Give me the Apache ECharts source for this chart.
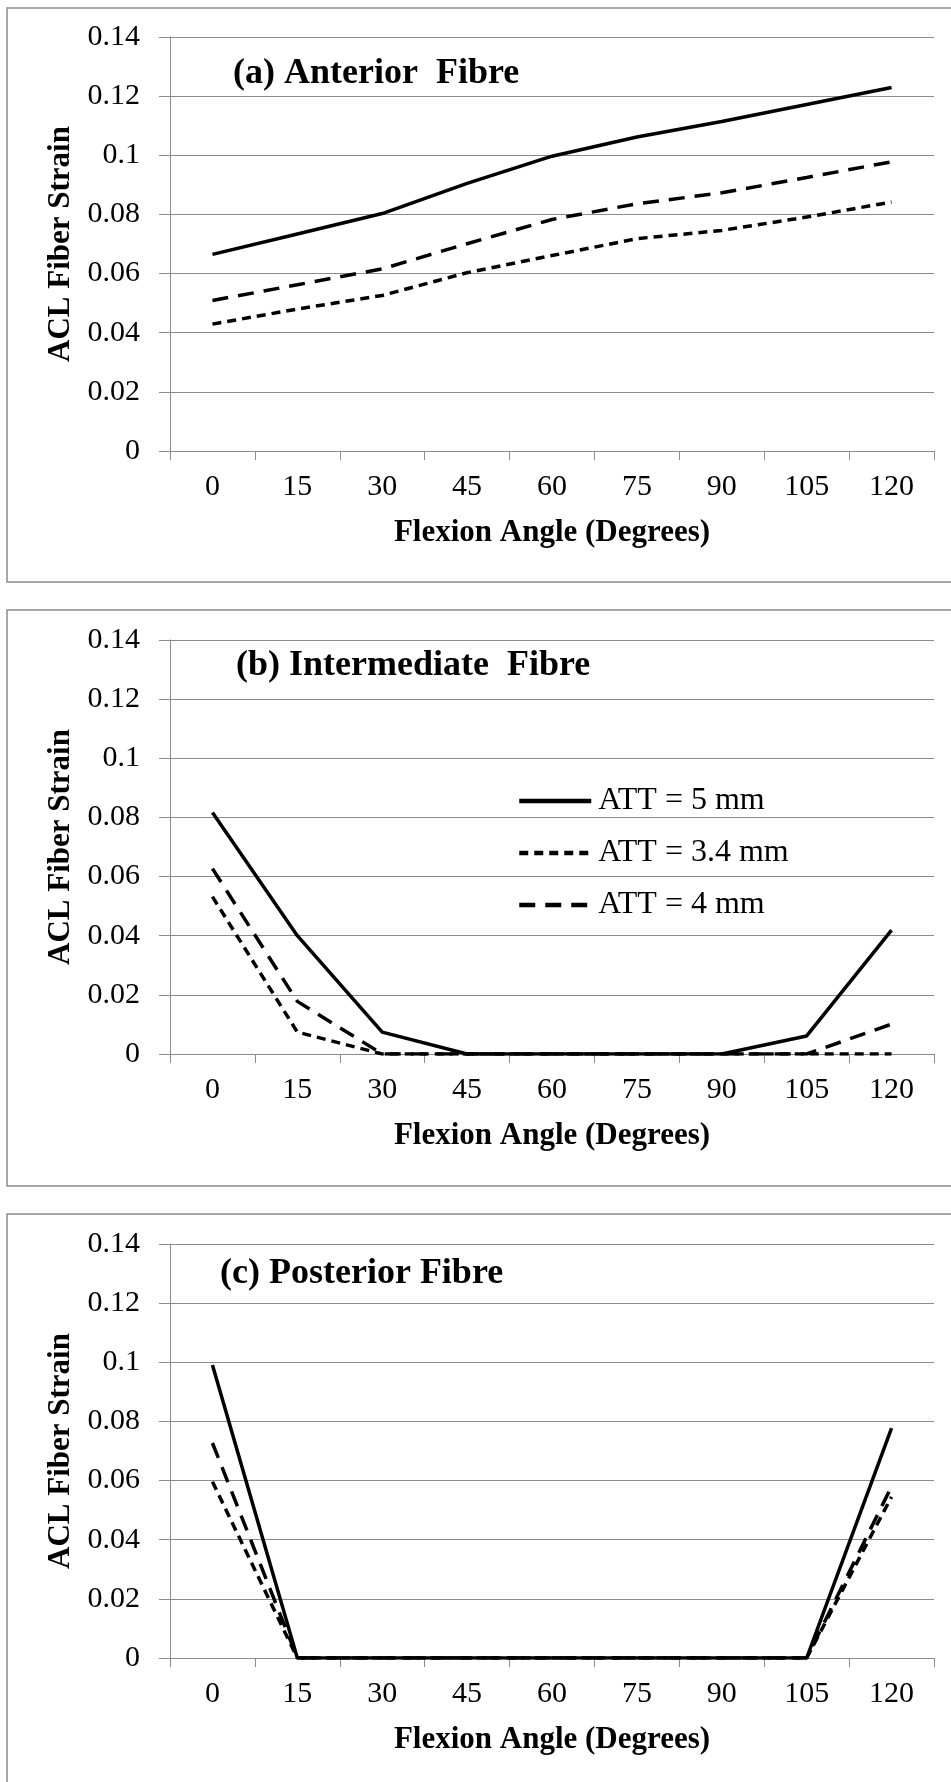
<!DOCTYPE html>
<html>
<head>
<meta charset="utf-8">
<title>ACL Fiber Strain</title>
<script src="https://cdn.jsdelivr.net/npm/echarts@6.0.0/dist/echarts.min.js"></script>
<style>
  html, body { margin: 0; padding: 0; background: #fff; }
  #chart { width: 951px; height: 1782px; }
</style>
</head>
<body>
<div id="chart"></div>
<script>
// flexion angle categories
const angles = ['0', '15', '30', '45', '60', '75', '90', '105', '120']

// (a) anterior fibre
const antAtt5 = [0.0665, 0.0734, 0.0803, 0.0905, 0.0997, 0.1062, 0.1114, 0.1172, 0.1229]
const antAtt34 = [0.0429, 0.0480, 0.0526, 0.0603, 0.0661, 0.0718, 0.0746, 0.0791, 0.0842]
const antAtt4 = [0.0509, 0.0562, 0.0616, 0.0701, 0.0783, 0.0836, 0.0873, 0.0925, 0.0978]

// (b) intermediate fibre
const intAtt5 = [0.0817, 0.0400, 0.0074, 0, 0, 0, 0, 0.0061, 0.0419]
const intAtt34 = [0.0532, 0.0074, 0, 0, 0, 0, 0, 0, 0]
const intAtt4 = [0.0627, 0.0178, 0, 0, 0, 0, 0, 0, 0.0101]

// (c) posterior fibre
const postAtt5 = [0.0991, 0, 0, 0, 0, 0, 0, 0, 0.0777]
const postAtt34 = [0.0596, 0, 0, 0, 0, 0, 0, 0, 0.0545]
const postAtt4 = [0.0727, 0, 0, 0, 0, 0, 0, 0, 0.0580]

const panelTitles = ['(a) Anterior  Fibre', '(b) Intermediate  Fibre', '(c) Posterior Fibre']
const seriesNames = ['ATT = 5 mm', 'ATT = 3.4 mm', 'ATT = 4 mm']

const yMin = 0
const yMax = 0.14
const yStep = 0.02

const font = "'Liberation Serif', 'Times New Roman', serif"
const gridColor = '#8c8c8c'

// plot area tops (px), each plot ~413px high
const tops = [37, 640, 1244]
const plotH = 414
// panel frames
const frames = [[7, 8, 574], [7, 610, 576], [7, 1214, 600]]
const titlePos = [[233, 76], [236, 668], [220, 1276]]

const panelData = [
  [antAtt5, antAtt34, antAtt4],
  [intAtt5, intAtt34, intAtt4],
  [postAtt5, postAtt34, postAtt4]
]

// solid / short dash / long dash
const lineTypes = ['solid', [9, 6], [16, 10]]

const grids = []
const xAxes = []
const yAxes = []
const series = []
const graphics = []

tops.forEach((top, i) => {
  grids.push({ left: 170, right: 17, top: top, height: plotH })
  xAxes.push({
    type: 'category',
    gridIndex: i,
    data: angles,
    boundaryGap: true,
    name: 'Flexion Angle (Degrees)',
    nameLocation: 'middle',
    nameGap: 66,
    nameTextStyle: { fontFamily: font, fontSize: 31, fontWeight: 'bold', color: '#000' },
    axisLine: { lineStyle: { color: gridColor, width: 1 } },
    axisTick: { show: true, length: 9, lineStyle: { color: gridColor } },
    axisLabel: { fontFamily: font, fontSize: 30, color: '#000', margin: 21 },
    splitLine: { show: false }
  })
  yAxes.push({
    type: 'value',
    gridIndex: i,
    min: yMin,
    max: yMax,
    interval: yStep,
    name: 'ACL Fiber Strain',
    nameLocation: 'middle',
    nameGap: 87,
    nameTextStyle: { fontFamily: font, fontSize: 31, fontWeight: 'bold', color: '#000' },
    axisLine: { show: true, lineStyle: { color: gridColor, width: 1 } },
    axisTick: { show: true, length: 11, lineStyle: { color: gridColor } },
    axisLabel: {
      fontFamily: font,
      fontSize: 30,
      color: '#000',
      margin: 30,
      formatter: v => String(+v.toFixed(2))
    },
    splitLine: { show: true, lineStyle: { color: gridColor, width: 1 } }
  })
  panelData[i].forEach((vals, k) => {
    series.push({
      name: seriesNames[k],
      type: 'line',
      xAxisIndex: i,
      yAxisIndex: i,
      data: vals,
      symbol: 'none',
      silent: true,
      itemStyle: { color: '#000' },
      lineStyle: { color: '#000', width: 3.5, type: lineTypes[k] }
    })
  })
  // panel frame
  graphics.push({
    type: 'rect',
    shape: { x: frames[i][0], y: frames[i][1], width: 980, height: frames[i][2] },
    style: { fill: 'none', stroke: gridColor, lineWidth: 1.5 },
    silent: true
  })
  // panel title
  graphics.push({
    type: 'text',
    left: titlePos[i][0],
    top: titlePos[i][1] - 20,
    style: {
      text: panelTitles[i],
      fontFamily: font,
      fontSize: 36,
      fontWeight: 'bold',
      fill: '#000'
    },
    silent: true
  })
})

const myChart = echarts.init(document.getElementById('chart'), null, { renderer: 'canvas' })
myChart.setOption({
  animation: false,
  backgroundColor: '#fff',
  grid: grids,
  xAxis: xAxes,
  yAxis: yAxes,
  // legend sits inside panel (b), line samples only
  legend: {
    data: seriesNames,
    orient: 'vertical',
    left: 512,
    top: 780,
    itemWidth: 72,
    itemHeight: 20,
    itemGap: 20,
    selectedMode: false,
    itemStyle: { opacity: 0 },
    lineStyle: { width: 4.5 },
    textStyle: { fontFamily: font, fontSize: 32, color: '#000', padding: [0, 0, 0, 2] }
  },
  graphic: graphics,
  series: series
})
</script>
</body>
</html>
